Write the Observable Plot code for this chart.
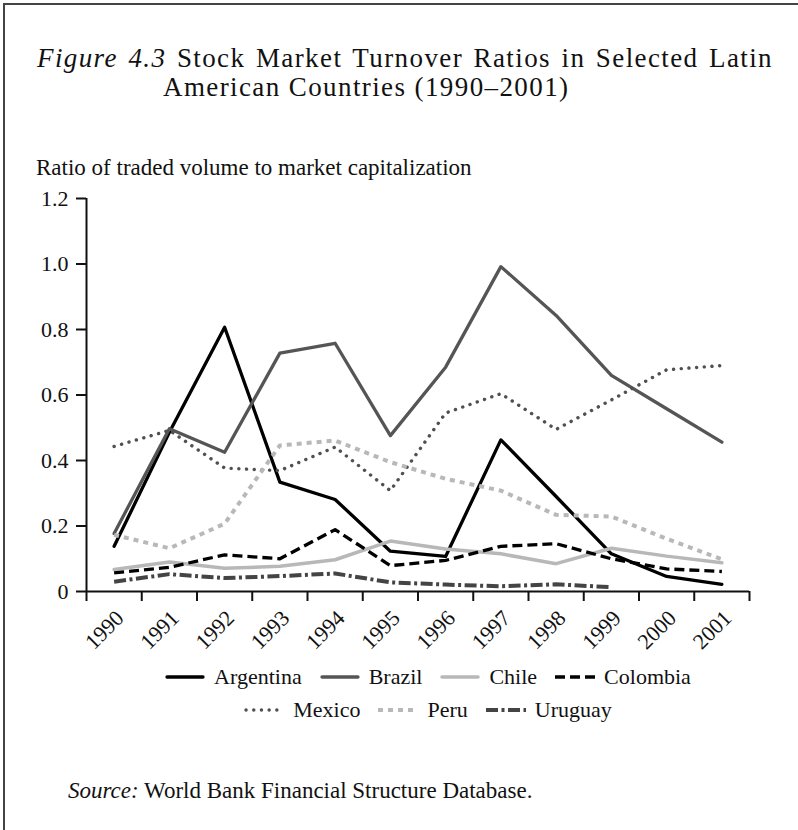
<!DOCTYPE html>
<html>
<head>
<meta charset="utf-8">
<script src="https://cdn.jsdelivr.net/npm/d3@7"></script>
<script src="https://cdn.jsdelivr.net/npm/@observablehq/plot@0.6"></script>
<style>
  html, body { margin: 0; padding: 0; background: #fff; }
  body { width: 798px; height: 830px; position: relative; overflow: hidden; font-family: "Liberation Serif", serif; color: #111; }
  .frame { position: absolute; left: 3px; top: 3px; width: 900px; height: 900px; border-top: 2px solid #444; border-left: 2px solid #444; }
  .t { position: absolute; white-space: nowrap; }
  #title1 { left: 37px; top: 43px; font-size: 27px; line-height: 30px; letter-spacing: 1.4px; width: 736px; text-align: justify; text-align-last: justify; }
  #title2 { left: 163px; top: 72px; font-size: 27px; line-height: 30px; letter-spacing: 1.4px; }
  #sub { left: 36px; top: 156px; font-size: 23px; line-height: 23px; }
  #chart { position: absolute; left: 0; top: 180px; }
  #legend { position: absolute; left: 58px; top: 660px; width: 740px; font-size: 22px; }
  .row { display: flex; justify-content: center; height: 33px; align-items: center; }
  .item { display: flex; align-items: center; margin: 0 9px; }
  .item svg { margin-right: 9px; }
  #source { left: 68px; top: 779px; font-size: 23px; line-height: 23px; }
</style>
</head>
<body>
<div class="frame"></div>
<div class="t" id="title1"><i>Figure 4.3</i> Stock Market Turnover Ratios in Selected Latin</div>
<div class="t" id="title2">American Countries (1990–2001)</div>
<div class="t" id="sub">Ratio of traded volume to market capitalization</div>
<div id="chart"></div>
<div id="legend"></div>
<div class="t" id="source"><i>Source:</i> World Bank Financial Structure Database.</div>
<script>
const years = [1990, 1991, 1992, 1993, 1994, 1995, 1996, 1997, 1998, 1999, 2000, 2001];
const yTicks = [0, 0.2, 0.4, 0.6, 0.8, 1.0, 1.2];

const argentina = [0.138, 0.486, 0.807, 0.334, 0.281, 0.123, 0.107, 0.463, 0.290, 0.115, 0.046, 0.022];
const brazil    = [0.177, 0.497, 0.425, 0.728, 0.758, 0.476, 0.685, 0.992, 0.843, 0.660, 0.558, 0.456];
const chile     = [0.067, 0.090, 0.071, 0.077, 0.097, 0.154, 0.130, 0.115, 0.085, 0.132, 0.108, 0.088];
const colombia  = [0.057, 0.074, 0.112, 0.100, 0.189, 0.079, 0.095, 0.138, 0.146, 0.100, 0.069, 0.061];
const mexico    = [0.443, 0.492, 0.377, 0.369, 0.441, 0.308, 0.545, 0.604, 0.495, 0.585, 0.677, 0.690];
const peru      = [0.173, 0.132, 0.207, 0.446, 0.461, 0.395, 0.344, 0.308, 0.234, 0.229, 0.161, 0.098];
const uruguay   = [0.030, 0.053, 0.041, 0.047, 0.055, 0.028, 0.021, 0.016, 0.022, 0.013, null, null];

const seriesNames = ["Argentina", "Brazil", "Chile", "Colombia", "Mexico", "Peru", "Uruguay"];
const seriesValues = [argentina, brazil, chile, colombia, mexico, peru, uruguay];

const styles = {
  Argentina: {stroke: "#000", strokeWidth: 3.3, dash: null, cap: "round"},
  Brazil:    {stroke: "#555", strokeWidth: 3.3, dash: null, cap: "round"},
  Chile:     {stroke: "#b8b8b8", strokeWidth: 3.5, dash: null, cap: "round"},
  Colombia:  {stroke: "#000", strokeWidth: 3.3, dash: "10,5", cap: "butt"},
  Mexico:    {stroke: "#505050", strokeWidth: 3.4, dash: "0.1,7.6", cap: "round"},
  Peru:      {stroke: "#b8b8b8", strokeWidth: 4, dash: "5,5", cap: "butt"},
  Uruguay:   {stroke: "#444", strokeWidth: 4, dash: "12,3.5,3,3.5", cap: "butt"}
};

const rows = [];
seriesNames.forEach((name, i) => {
  years.forEach((yr, j) => rows.push({country: name, year: yr, value: seriesValues[i][j]}));
});

const boundaries = years.map(y => y - 0.5).concat([years[years.length - 1] + 0.5]);

const lineMarks = seriesNames.map(name => Plot.line(rows.filter(d => d.country === name), {
  x: "year", y: "value",
  defined: d => d.value != null,
  stroke: styles[name].stroke,
  strokeWidth: styles[name].strokeWidth,
  strokeDasharray: styles[name].dash || undefined,
  strokeLinecap: styles[name].cap,
  strokeLinejoin: "round"
}));

const chart = Plot.plot({
  width: 798,
  height: 480,
  marginLeft: 86,
  marginRight: 49,
  marginTop: 18,
  marginBottom: 69,
  style: {fontFamily: "Liberation Serif, serif", fontSize: "22px", color: "#111", background: "transparent", overflow: "visible"},
  x: {domain: [boundaries[0], boundaries[boundaries.length - 1]], axis: null},
  y: {domain: [0, 1.2], axis: null},
  marks: [
    ...lineMarks,
    Plot.axisY({ticks: yTicks, tickSize: 10, tickPadding: 8, strokeWidth: 2,
      tickFormat: d => d === 0 ? "0" : d.toFixed(1), fontSize: 22, label: null}),
    Plot.axisX({ticks: boundaries, tickSize: 10, strokeWidth: 2, tickFormat: () => "", label: null}),
    Plot.ruleX([boundaries[0]], {y1: 0, y2: 1.2, strokeWidth: 2, stroke: "#111"}),
    Plot.ruleY([0], {x1: boundaries[0], x2: boundaries[boundaries.length - 1], strokeWidth: 2, stroke: "#111"}),
    Plot.text(years, {x: d => d, y: () => 0, text: d => String(d), rotate: -45, textAnchor: "end",
      dx: 6, dy: 23, fontSize: 22, fill: "#111"})
  ]
});
document.getElementById("chart").appendChild(chart);

// Legend
const legend = document.getElementById("legend");
const legendRows = [seriesNames.slice(0, 4), seriesNames.slice(4)];
legendRows.forEach(r => {
  const row = document.createElement("div");
  row.className = "row";
  r.forEach(name => {
    const s = styles[name];
    const item = document.createElement("div");
    item.className = "item";
    const ns = "http://www.w3.org/2000/svg";
    const sw = document.createElementNS(ns, "svg");
    sw.setAttribute("width", 40); sw.setAttribute("height", 10);
    const ln = document.createElementNS(ns, "line");
    ln.setAttribute("x1", s.cap === "round" ? 2 : 0); ln.setAttribute("x2", s.cap === "round" ? 38 : 40);
    ln.setAttribute("y1", 5); ln.setAttribute("y2", 5);
    ln.setAttribute("stroke", s.stroke);
    ln.setAttribute("stroke-width", s.strokeWidth);
    if (s.dash) ln.setAttribute("stroke-dasharray", s.dash);
    ln.setAttribute("stroke-linecap", s.cap);
    sw.appendChild(ln);
    item.appendChild(sw);
    const label = document.createElement("span");
    label.textContent = name;
    item.appendChild(label);
    row.appendChild(item);
  });
  legend.appendChild(row);
});
</script>
</body>
</html>
